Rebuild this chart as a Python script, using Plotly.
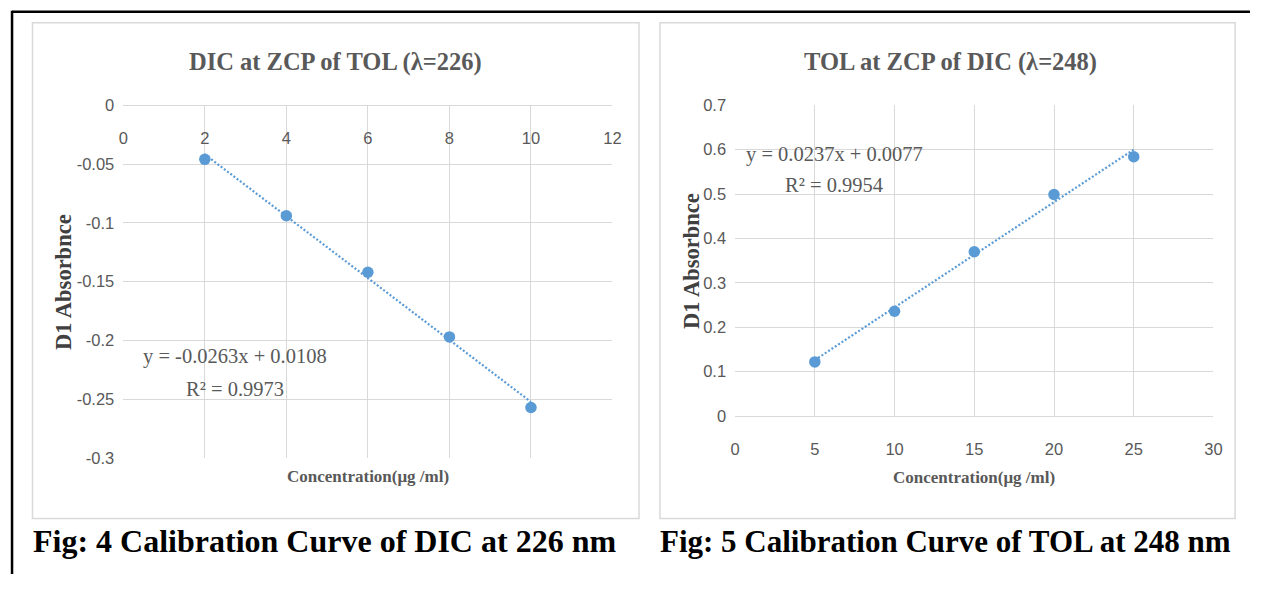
import plotly.graph_objects as go

# ---- data -------------------------------------------------------------
dic_conc = [2, 4, 6, 8, 10]
dic_abs = [-0.046, -0.094, -0.142, -0.197, -0.257]
dic_slope, dic_intercept, dic_r2 = -0.0263, 0.0108, 0.9973

tol_conc = [5, 10, 15, 20, 25]
tol_abs = [0.122, 0.236, 0.370, 0.499, 0.584]
tol_slope, tol_intercept, tol_r2 = 0.0237, 0.0077, 0.9954

dic_xticks = [0, 2, 4, 6, 8, 10, 12]
dic_yticks = [0, -0.05, -0.1, -0.15, -0.2, -0.25, -0.3]
dic_ytext = ["0", "-0.05", "-0.1", "-0.15", "-0.2", "-0.25", "-0.3"]

tol_xticks = [0, 5, 10, 15, 20, 25, 30]
tol_yticks = [0, 0.1, 0.2, 0.3, 0.4, 0.5, 0.6, 0.7]
tol_ytext = ["0", "0.1", "0.2", "0.3", "0.4", "0.5", "0.6", "0.7"]

# ---- page geometry helpers -------------------------------------------
# The body keeps its default 8px margin, so the figure fills the window inside it.
# Layout positions below are given in window pixels and converted to paper units;
# SX/SY/OX fold in the small stretch seen between layout and captured window.
PAGE_W, PAGE_H, BODY_M = 1266, 590, 8
W, H = PAGE_W - 2 * BODY_M, PAGE_H - 2 * BODY_M
SX, OX, SY = 0.992, -5.0, 0.969


def px(x):
    return ((x - OX) / SX - BODY_M) / W


def py(y):
    return (H - (y / SY - BODY_M)) / H


BLUE = "#5B9BD5"
GRID = "#d9d9d9"
GREY = "#595959"
SERIF = "Liberation Serif, Times New Roman, serif"
SANS = "Liberation Sans Narrow, Arial Narrow, Liberation Sans, sans-serif"


def trend(xs, m, b):
    x = [min(xs), max(xs)]
    return x, [m * v + b for v in x]


fig = go.Figure()

# left chart: DIC
tx, ty = trend(dic_conc, dic_slope, dic_intercept)
fig.add_trace(go.Scatter(x=tx, y=ty, mode="lines", xaxis="x", yaxis="y",
                         line=dict(color=BLUE, width=2.2, dash="2px,2px"),
                         hoverinfo="skip", showlegend=False))
fig.add_trace(go.Scatter(x=dic_conc, y=dic_abs, mode="markers", xaxis="x", yaxis="y",
                         marker=dict(color=BLUE, size=11.5), showlegend=False))

# right chart: TOL
tx, ty = trend(tol_conc, tol_slope, tol_intercept)
fig.add_trace(go.Scatter(x=tx, y=ty, mode="lines", xaxis="x2", yaxis="y2",
                         line=dict(color=BLUE, width=2.2, dash="2px,2px"),
                         hoverinfo="skip", showlegend=False))
fig.add_trace(go.Scatter(x=tol_conc, y=tol_abs, mode="markers", xaxis="x2", yaxis="y2",
                         marker=dict(color=BLUE, size=11.5), showlegend=False))

tick_font = dict(family=SANS, size=16.5, color=GREY)

# plot areas (window pixels): left 121.6-612.4 x 104-457, right 735.4-1215.3 x 104-415
L = dict(x0=121.6, x1=612.4, y0=104, y1=457)
R = dict(x0=735.4, x1=1215.3, y0=104, y1=415)

fig.update_layout(
    width=W, height=H, autosize=False,
    margin=dict(l=0, r=0, t=0, b=0),
    paper_bgcolor="white", plot_bgcolor="white",
    showlegend=False,
    xaxis=dict(domain=[px(L["x0"]), px(L["x1"])], range=[0, 12],
               tickvals=dic_xticks, anchor="free", position=py(L["y0"]), side="bottom",
               showgrid=True, gridcolor=GRID, gridwidth=1, zeroline=False,
               showline=True, linecolor=GRID, linewidth=1, ticks="",
               ticklabelstandoff=18, tickfont=tick_font, fixedrange=True),
    yaxis=dict(domain=[py(L["y1"]), py(L["y0"])], range=[-0.3, 0],
               tickvals=dic_yticks, ticktext=dic_ytext, anchor="free", position=px(L["x0"]),
               showgrid=True, gridcolor=GRID, gridwidth=1, zeroline=False,
               showline=False, ticks="", ticklabelstandoff=9,
               tickfont=tick_font, fixedrange=True),
    xaxis2=dict(domain=[px(R["x0"]), px(R["x1"])], range=[0, 30],
                tickvals=tol_xticks, anchor="free", position=py(R["y1"]), side="bottom",
                showgrid=True, gridcolor=GRID, gridwidth=1, zeroline=False,
                showline=True, linecolor=GRID, linewidth=1, ticks="",
                ticklabelstandoff=18, tickfont=tick_font, fixedrange=True),
    yaxis2=dict(domain=[py(R["y1"]), py(R["y0"])], range=[0, 0.7],
                tickvals=tol_yticks, ticktext=tol_ytext, anchor="free", position=px(R["x0"]),
                showgrid=True, gridcolor=GRID, gridwidth=1, zeroline=False,
                showline=False, ticks="", ticklabelstandoff=9,
                tickfont=tick_font, fixedrange=True),
)

# frames: outer page rule and the two chart boxes
shapes = [
    dict(type="line", xref="paper", yref="paper", x0=px(10), x1=px(PAGE_W + 20), y0=py(10.5), y1=py(10.5),
         line=dict(color="black", width=2.5)),
    dict(type="line", xref="paper", yref="paper", x0=px(10), x1=px(10), y0=py(9.5), y1=py(PAGE_H + 20),
         line=dict(color="black", width=2.5)),
    dict(type="rect", xref="paper", yref="paper", x0=px(30.5), x1=px(639), y0=py(21.5), y1=py(517.5),
         line=dict(color=GRID, width=1.5)),
    dict(type="rect", xref="paper", yref="paper", x0=px(660), x1=px(1237), y0=py(21.5), y1=py(517.5),
         line=dict(color=GRID, width=1.5)),
]
fig.update_layout(shapes=shapes)


def text(x, y, s, size, color=GREY, family=SERIF, angle=0, xanchor="center"):
    fig.add_annotation(x=px(x), y=py(y), xref="paper", yref="paper", text=s,
                       showarrow=False, textangle=angle, xanchor=xanchor, yanchor="middle",
                       font=dict(family=family, size=size, color=color))


# left chart texts
text(335, 61, "<b>DIC at ZCP of TOL (λ=226)</b>", 24.5)
text(367, 475, "<b>Concentration(μg /ml)</b>", 17)
text(61, 281, "<b>D1 Absorbnce</b>", 22.5, color="#404040", angle=-90)
text(234, 355, f"y = {dic_slope}x + {dic_intercept}", 20.5)
text(234, 388, f"R² = {dic_r2}", 20.5)

# right chart texts
text(951, 61, "<b>TOL at ZCP of DIC (λ=248)</b>", 24.5)
text(975, 476, "<b>Concentration(μg /ml)</b>", 17)
text(691, 260, "<b>D1 Absorbnce</b>", 22.5, color="#404040", angle=-90)
text(835, 153, f"y = {tol_slope}x + {tol_intercept}", 20.5)
text(835, 184, f"R² = {tol_r2}", 20.5)

# figure captions
text(29, 540, "<b>Fig: 4 Calibration Curve of DIC at 226 nm</b>", 32, color="black", xanchor="left")
text(658, 540, "<b>Fig: 5 Calibration Curve of TOL at 248 nm</b>", 31, color="black", xanchor="left")

fig.write_html("out.html")
